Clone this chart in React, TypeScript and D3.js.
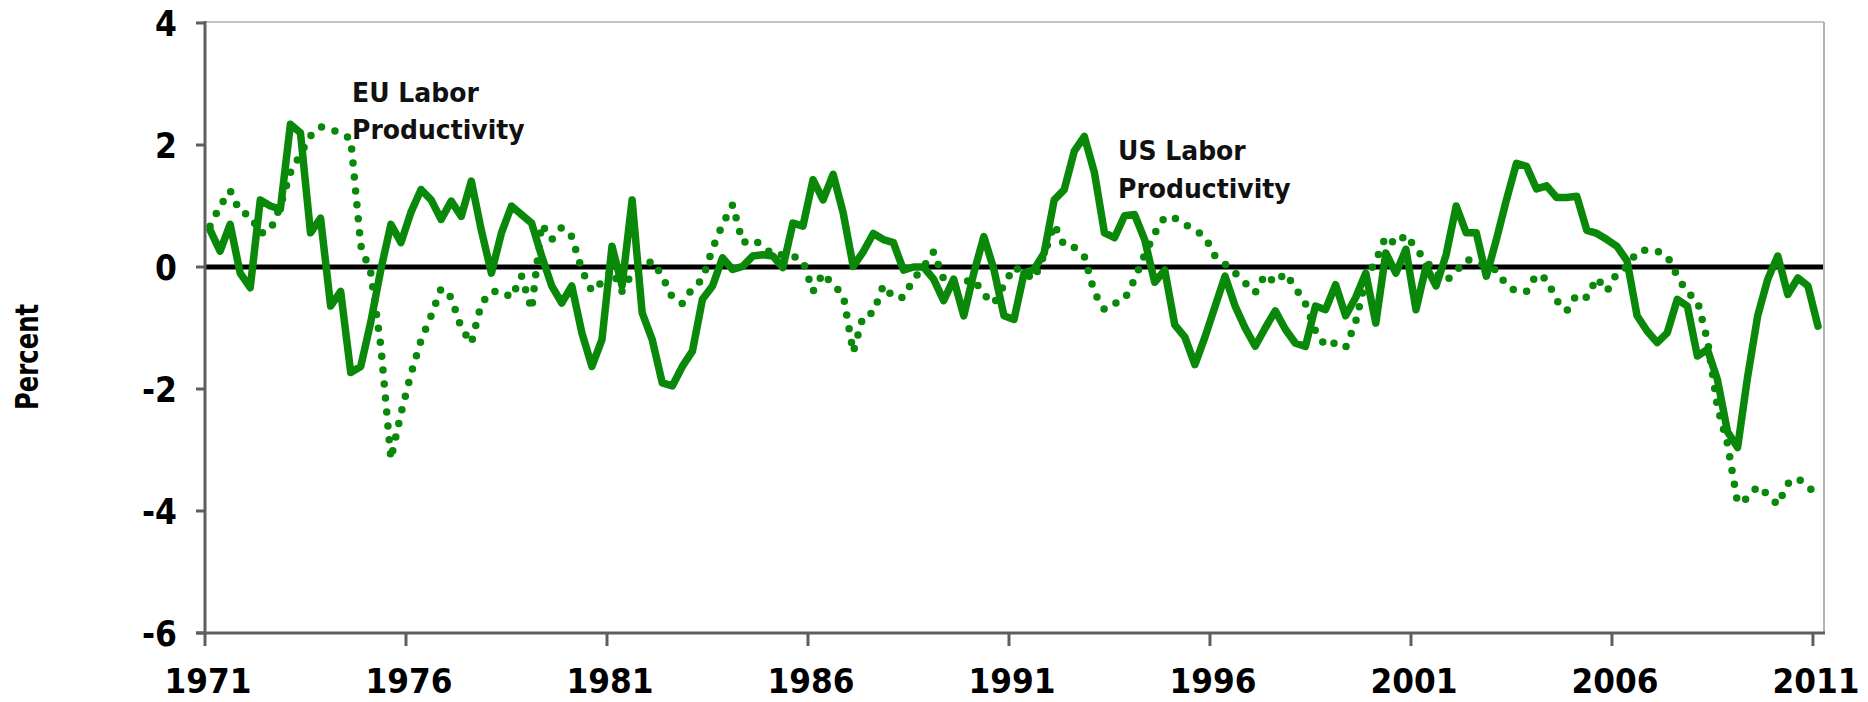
import React from "react";
import * as d3 from "d3";

// Quarterly data 1971Q1 .. 2011Q1 (161 quarters), percent
const tickYears = ["1971", "1976", "1981", "1986", "1991", "1996", "2001", "2006", "2011"];
const yTicks = [4, 2, 0, -2, -4, -6];

const usProductivity = [
  0.61, 0.26, 0.7, -0.1, -0.34, 1.1, 1.0, 0.95, 2.34, 2.2,
  0.56, 0.8, -0.64, -0.4, -1.73, -1.63, -0.9, -0.04, 0.7, 0.4,
  0.9, 1.27, 1.1, 0.78, 1.08, 0.83, 1.41, 0.6, -0.1, 0.56,
  1.0, 0.86, 0.72, 0.18, -0.31, -0.59, -0.31, -1.08, -1.63, -1.19,
  0.34, -0.31, 1.1, -0.75, -1.19, -1.9, -1.95, -1.63, -1.38, -0.53,
  -0.31, 0.15, -0.04, 0.01, 0.18, 0.2, 0.18, -0.01, 0.72, 0.67,
  1.43, 1.1, 1.52, 0.89, 0.01, 0.25, 0.55, 0.45, 0.4, -0.05,
  0.0, 0.0, -0.2, -0.55, -0.2, -0.8, -0.1, 0.5, -0.04, -0.8,
  -0.86, -0.1, -0.04, 0.23, 1.1, 1.27, 1.9, 2.14, 1.55, 0.56,
  0.48, 0.84, 0.86, 0.45, -0.25, -0.05, -0.95, -1.15, -1.6, -1.15,
  -0.65, -0.15, -0.64, -1.0, -1.3, -1.0, -0.72, -1.02, -1.25, -1.3,
  -0.64, -0.7, -0.29, -0.8, -0.5, -0.1, -0.92, 0.23, -0.1, 0.29,
  -0.7, 0.01, -0.31, 0.2, 1.0, 0.56, 0.56, -0.15, 0.45, 1.1,
  1.7, 1.65, 1.28, 1.33, 1.14, 1.14, 1.16, 0.6, 0.55, 0.45,
  0.34, 0.1, -0.8, -1.05, -1.24, -1.08, -0.53, -0.64, -1.46, -1.35,
  -1.85, -2.7, -2.96, -1.8, -0.8, -0.2, 0.18, -0.45, -0.18, -0.31,
  -0.97,
];

const euProductivity = [
  0.67, 1.0, 1.25, 0.9, 0.85, 0.55, 0.6, 1.0, 1.55, 1.85,
  2.15, 2.3, 2.25, 2.2, 2.1, 0.35, -0.1, -1.3, -3.15, -2.4,
  -1.75, -1.2, -0.8, -0.35, -0.5, -1.0, -1.25, -0.6, -0.4, -0.4,
  -0.5, -0.15, -0.7, 0.7, 0.45, 0.65, 0.5, -0.05, -0.4, -0.25,
  -0.05, -0.4, -0.1, 0.0, 0.1, -0.15, -0.5, -0.6, -0.35, -0.2,
  0.3, 0.7, 1.02, 0.4, 0.45, 0.35, 0.2, 0.2, 0.18, 0.1,
  -0.4, -0.1, -0.3, -0.45, -1.4, -0.8, -0.75, -0.3, -0.5, -0.5,
  -0.2, 0.0, 0.25, -0.2, -0.3, -0.25, -0.2, -0.45, -0.6, -0.3,
  0.0, -0.1, -0.2, 0.2, 0.7, 0.35, 0.32, 0.17, -0.42, -0.7,
  -0.6, -0.53, -0.2, 0.2, 0.55, 0.82, 0.8, 0.7, 0.6, 0.5,
  0.18, 0.05, -0.1, -0.26, -0.42, -0.12, -0.26, -0.1, -0.34, -0.6,
  -1.05, -1.3, -1.24, -1.32, -0.9, -0.2, 0.1, 0.5, 0.37, 0.53,
  0.3, 0.1, -0.1, -0.23, -0.07, 0.12, 0.1, 0.0, -0.05, -0.3,
  -0.4, -0.4, -0.12, -0.2, -0.55, -0.72, -0.45, -0.5, -0.18, -0.4,
  -0.1, 0.0, 0.25, 0.28, 0.26, 0.18, -0.15, -0.42, -0.55, -1.2,
  -2.3, -2.9, -3.87, -3.79, -3.59, -3.73, -3.9, -3.55, -3.46, -3.62,
  -3.7,
];

const GREEN = "#0a880a";
const FONT = "'DejaVu Sans', Verdana, sans-serif";

export default function App() {
  const width = 1868;
  const height = 702;
  const left = 205;
  const right = 1823;
  const top = 23;
  const bottom = 633;
  const n = usProductivity.length;

  const x = d3.scaleLinear().domain([0, n]).range([left, right]);
  const y = d3.scaleLinear().domain([-6, 4]).range([bottom, top]);

  const line = d3
    .line<number>()
    .x((_, i) => x(i + 0.5))
    .y((d) => y(d));

  const usPath = line(usProductivity) || "";
  const euPath = line(euProductivity) || "";

  return (
    <svg
      width={width}
      height={height}
      style={{ position: "absolute", left: 0, top: 0, background: "#fff" }}
    >
      <rect x={0} y={0} width={width} height={height} fill="#fff" />
      {/* frame top & right */}
      <line x1={left} x2={right + 1} y1={top - 1} y2={top - 1} stroke="#c4c4c4" strokeWidth={2} />
      <line x1={right + 1} x2={right + 1} y1={top - 1} y2={bottom} stroke="#b4b4b4" strokeWidth={2} />

      {/* zero line */}
      <line x1={left} x2={right} y1={y(0)} y2={y(0)} stroke="#000" strokeWidth={5} />

      {/* series */}
      <path
        d={euPath}
        fill="none"
        stroke={GREEN}
        strokeWidth={7.5}
        strokeLinecap="round"
        strokeDasharray="0 14"
      />
      <path
        d={usPath}
        fill="none"
        stroke={GREEN}
        strokeWidth={7.5}
        strokeLinejoin="round"
        strokeLinecap="round"
      />

      {/* axes */}
      <line x1={left} x2={left} y1={top - 2} y2={bottom + 1.5} stroke="#5e5e5e" strokeWidth={3} />
      <line x1={left - 9} x2={right + 2} y1={bottom} y2={bottom} stroke="#5e5e5e" strokeWidth={3} />

      {yTicks.map((t) => (
        <g key={t}>
          <line x1={left - 9} x2={left} y1={y(t)} y2={y(t)} stroke="#5e5e5e" strokeWidth={3} />
          <text
            transform={`translate(${left - 28},${y(t) + 13}) scale(0.9,1)`}
            textAnchor="end"
            fontFamily={FONT}
            fontWeight="bold"
            fontSize={35}
            fill="#000"
          >
            {t}
          </text>
        </g>
      ))}

      {tickYears.map((label, k) => {
        const xi = x(k * 20);
        return (
          <g key={label}>
            <line x1={xi} x2={xi} y1={bottom} y2={bottom + 13} stroke="#5e5e5e" strokeWidth={3} />
            <text
              transform={`translate(${xi + 3},693) scale(0.92,1)`}
              textAnchor="middle"
              fontFamily={FONT}
              fontWeight="bold"
              fontSize={34}
              fill="#000"
            >
              {label}
            </text>
          </g>
        );
      })}

      {/* y-axis title */}
      <text
        transform={`translate(38,357) rotate(-90) scale(0.76,1)`}
        textAnchor="middle"
        fontFamily={FONT}
        fontWeight="bold"
        fontSize={32}
        fill="#000"
      >
        Percent
      </text>

      {/* annotations */}
      <g fontFamily={FONT} fontWeight="bold" fontSize={27} fill="#111">
        <text transform={`translate(352,102) scale(0.93,1)`}>EU Labor</text>
        <text transform={`translate(352,139) scale(0.93,1)`}>Productivity</text>
        <text transform={`translate(1118,160) scale(0.93,1)`}>US Labor</text>
        <text transform={`translate(1118,198) scale(0.93,1)`}>Productivity</text>
      </g>
    </svg>
  );
}
